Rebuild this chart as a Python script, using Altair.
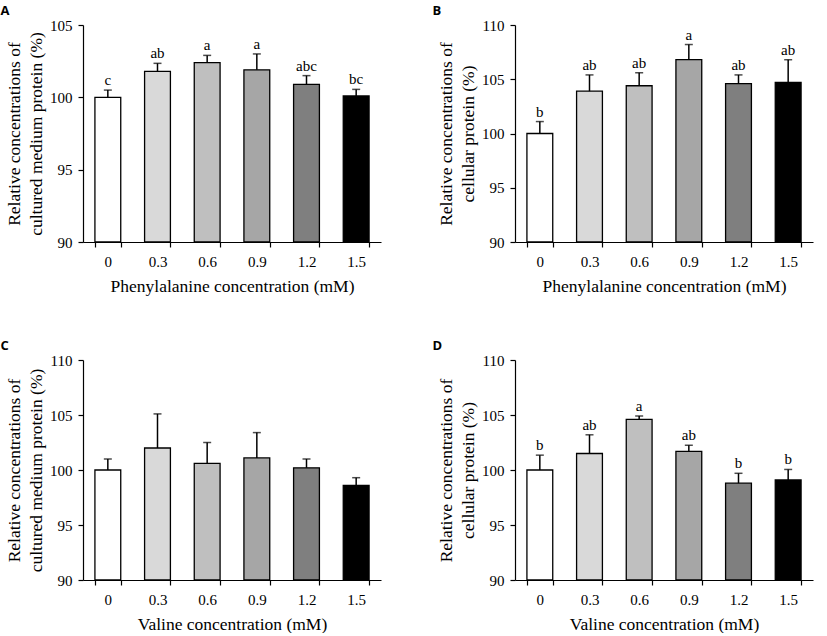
import altair as alt
import pandas as pd

conc = ["0", "0.3", "0.6", "0.9", "1.2", "1.5"]
fills = ["#ffffff", "#d9d9d9", "#bfbfbf", "#a6a6a6", "#7f7f7f", "#000000"]

a_mean = [100.0, 101.8, 102.4, 101.9, 100.9, 100.1]
a_sd = [0.5, 0.55, 0.5, 1.1, 0.6, 0.45]
a_let = ["c", "ab", "a", "a", "abc", "bc"]

b_mean = [100.0, 103.9, 104.4, 106.8, 104.6, 104.7]
b_sd = [1.1, 1.5, 1.2, 1.4, 0.8, 2.1]
b_let = ["b", "ab", "ab", "a", "ab", "ab"]

c_mean = [100.0, 102.0, 100.6, 101.1, 100.2, 98.6]
c_sd = [1.0, 3.1, 1.9, 2.3, 0.8, 0.7]
c_let = ["", "", "", "", "", ""]

d_mean = [100.0, 101.5, 104.6, 101.7, 98.8, 99.1]
d_sd = [1.35, 1.7, 0.3, 0.55, 0.9, 0.95]
d_let = ["b", "ab", "a", "ab", "b", "b"]

SERIF = "Liberation Serif"
W = 298


def panel(mean, sd, let, ymax, xtitle, ytitle, label, h):
    df = pd.DataFrame({
        "conc": conc,
        "mean": mean,
        "top": [m + s for m, s in zip(mean, sd)],
        "let": let,
    })
    base = alt.Chart(df)
    x = alt.X(
        "conc:N", sort=conc,
        scale=alt.Scale(paddingInner=0.48, paddingOuter=0.24),
        axis=alt.Axis(title=xtitle, labelAngle=0, tickBand="extent",
                      titlePadding=8, labelPadding=7),
    )
    yscale = alt.Scale(domain=[90, ymax], zero=False, nice=False)
    y = alt.Y("mean:Q", scale=yscale,
              axis=alt.Axis(values=list(range(90, ymax + 1, 5)), title=ytitle,
                            titlePadding=4, labelPadding=6))
    bars = base.mark_bar(stroke="black", strokeWidth=1.3).encode(
        x=x, y=y, y2=alt.datum(90),
        fill=alt.Color("conc:N", scale=alt.Scale(domain=conc, range=fills), legend=None),
    )
    rule = base.mark_rule(color="black", strokeWidth=1.5).encode(
        x=alt.X("conc:N", sort=conc), y=alt.Y("mean:Q"), y2="top:Q")
    cap = base.mark_tick(color="black", thickness=1.5, size=8).encode(
        x=alt.X("conc:N", sort=conc), y=alt.Y("top:Q"))
    txt = base.mark_text(font=SERIF, fontSize=15, baseline="bottom", dy=-2,
                         color="black").encode(
        x=alt.X("conc:N", sort=conc), y=alt.Y("top:Q"), text="let:N")
    return alt.layer(bars, rule, cap, txt).properties(
        width=W, height=h,
        title=alt.TitleParams(label, anchor="start", font="Open Sans",
                              fontWeight="bold", fontSize=13, offset=0, dx=-5),
    )


pA = panel(a_mean, a_sd, a_let, 105, "Phenylalanine concentration (mM)",
           ["Relative concentrations of", "cultured medium protein (%)"], "A", 217)
pB = panel(b_mean, b_sd, b_let, 110, "Phenylalanine concentration (mM)",
           ["Relative concentrations of", "cellular protein (%)"], "B", 217)
pC = panel(c_mean, c_sd, c_let, 110, "Valine concentration (mM)",
           ["Relative concentrations of", "cultured medium protein (%)"], "C", 220)
pD = panel(d_mean, d_sd, d_let, 110, "Valine concentration (mM)",
           ["Relative concentrations of", "cellular protein (%)"], "D", 220)

chart = alt.vconcat(
    alt.hconcat(pA, pB, spacing=51),
    alt.hconcat(pC, pD, spacing=51),
    spacing=45, background="white",
    padding={"top": 5, "left": 0, "right": 2, "bottom": 0},
).configure_view(stroke=None).configure_axis(
    grid=False, domainColor="black", tickColor="black", labelColor="black",
    titleColor="black", labelFont=SERIF, titleFont=SERIF, labelFontSize=15,
    titleFontSize=17.5, titleFontWeight="normal", tickSize=5, domainWidth=1.2,
    tickWidth=1.2, titleLineHeight=22,
)

chart.save("out.html", embed_options={"renderer": "svg", "actions": False})
